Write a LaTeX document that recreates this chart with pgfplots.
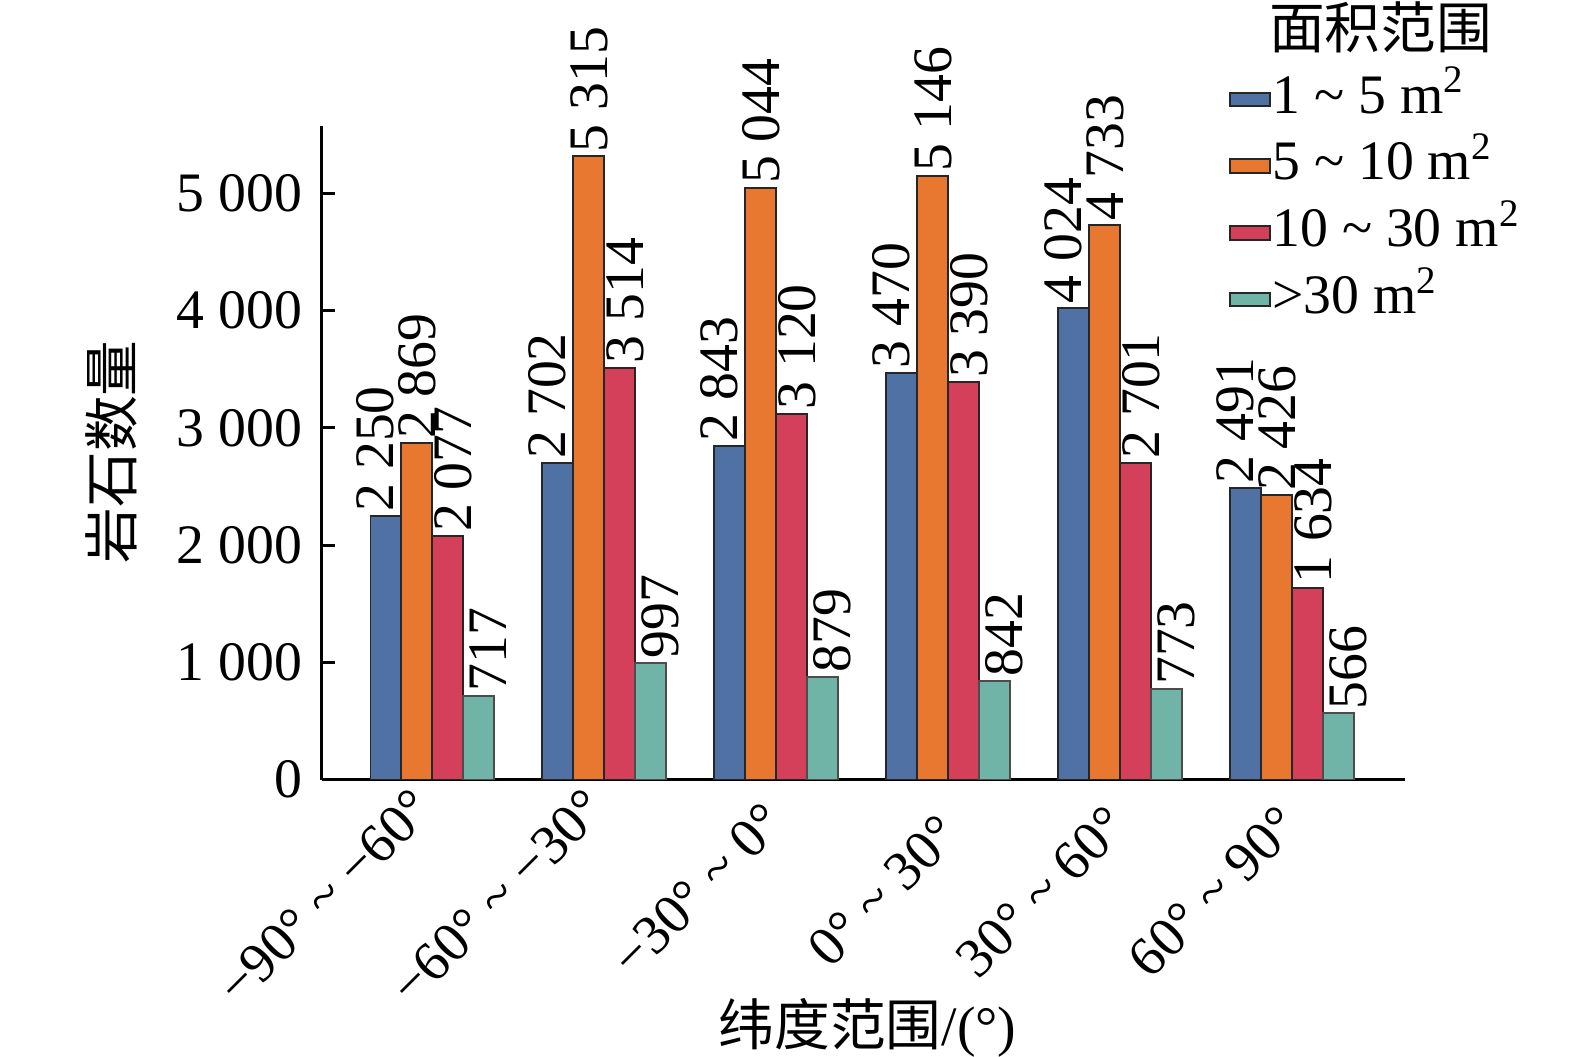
\documentclass[border=0pt]{standalone}
\usepackage{fontspec}
\setmainfont{Liberation Serif}
\newfontfamily\cjk{Noto Sans CJK SC}
\usepackage{pgfplots}
\pgfplotsset{compat=1.18}
\definecolor{cblue}{HTML}{5071A3}
\definecolor{corange}{HTML}{E87830}
\definecolor{cred}{HTML}{D4405A}
\definecolor{cteal}{HTML}{70B4A8}
\newcommand{\xl}[3]{\raisebox{#2}{#3\hspace*{#1}}}
\begin{document}
\begin{tikzpicture}
\begin{axis}[
  at={(0,0)}, anchor=south west,
  scale only axis, width=194.4pt, height=117.3pt,
  ybar=0pt, bar width=0.1797,
  xmin=-0.642, xmax=5.654, ymin=0, ymax=5570,
  axis lines*=left,
  axis line style={line width=0.55pt},
  xtick={0,1,2,3,4,5},
  xticklabels={\xl{3.5pt}{-4.5pt}{−90° \textasciitilde\ −60°}, \xl{3.4pt}{-4.6pt}{−60° \textasciitilde\ −30°}, \xl{4.33pt}{-7.25pt}{−30° \textasciitilde\ 0°}, \xl{5.47pt}{-9.16pt}{0° \textasciitilde\ 30°}, \xl{4.83pt}{-7.50pt}{30° \textasciitilde\ 60°}, \xl{4.83pt}{-7.50pt}{60° \textasciitilde\ 90°}},
  x tick style={draw=none},
  xticklabel style={rotate=45, anchor=base east, inner sep=0pt},
  ytick={0,1000,2000,3000,4000,5000},
  tick align=inside,
  major tick length=2.4pt,
  y tick style={line width=0.55pt, black},
  /pgf/number format/assume math mode=true,
  /pgf/number format/1000 sep={\ },
  ylabel={\cjk 岩石数量},
  xlabel={{\cjk 纬度范围}/(°)},
  every axis y label/.style={at={(axis description cs:-0.194,0.502)}, rotate=90, anchor=center},
  every axis x label/.style={at={(axis description cs:0.504,-0.380)}, anchor=center},
  nodes near coords,
  legend image code/.code={\draw[#1, draw=black!85, line width=0.35pt] (0pt,-1.2pt) rectangle (7.2pt,1.2pt);},
  legend style={draw=none, fill=none, at={(axis description cs:0.8366,1.0843)}, anchor=north west, row sep=2.4pt, inner sep=0pt, nodes={inner sep=0.3pt, text height=7pt, text depth=2pt}},
  legend cell align=left,
]
\addplot[fill=cblue, draw=black!85, line width=0.35pt,
  every node near coord/.append style={xshift=1.4pt, rotate=90, anchor=base west, inner sep=0.6pt, black}]
  coordinates {(0,2250) (1,2702) (2,2843) (3,3470) (4,4024) (5,2491)};
\addplot[fill=corange, draw=black!85, line width=0.35pt,
  every node near coord/.append style={xshift=3.4pt, rotate=90, anchor=base west, inner sep=0.6pt, black}]
  coordinates {(0,2869) (1,5315) (2,5044) (3,5146) (4,4733) (5,2426)};
\addplot[fill=cred, draw=black!85, line width=0.35pt,
  every node near coord/.append style={xshift=4.3pt, rotate=90, anchor=base west, inner sep=0.6pt, black}]
  coordinates {(0,2077) (1,3514) (2,3120) (3,3390) (4,2701) (5,1634)};
\addplot[fill=cteal, draw=black!70, line width=0.35pt,
  every node near coord/.append style={xshift=5.0pt, rotate=90, anchor=base west, inner sep=0.6pt, black}]
  coordinates {(0,717) (1,997) (2,879) (3,842) (4,773) (5,566)};
\legend{1 \textasciitilde\ 5 m\textsuperscript{2}, 5 \textasciitilde\ 10 m\textsuperscript{2}, 10 \textasciitilde\ 30 m\textsuperscript{2}, >30 m\textsuperscript{2}}
\end{axis}
\node at (190.1pt,135.0pt) {\cjk 面积范围};
\pgfresetboundingbox
\path[use as bounding box] (-57.8pt,-49.7pt) rectangle (225.0pt,140.0pt);
\end{tikzpicture}
\end{document}
